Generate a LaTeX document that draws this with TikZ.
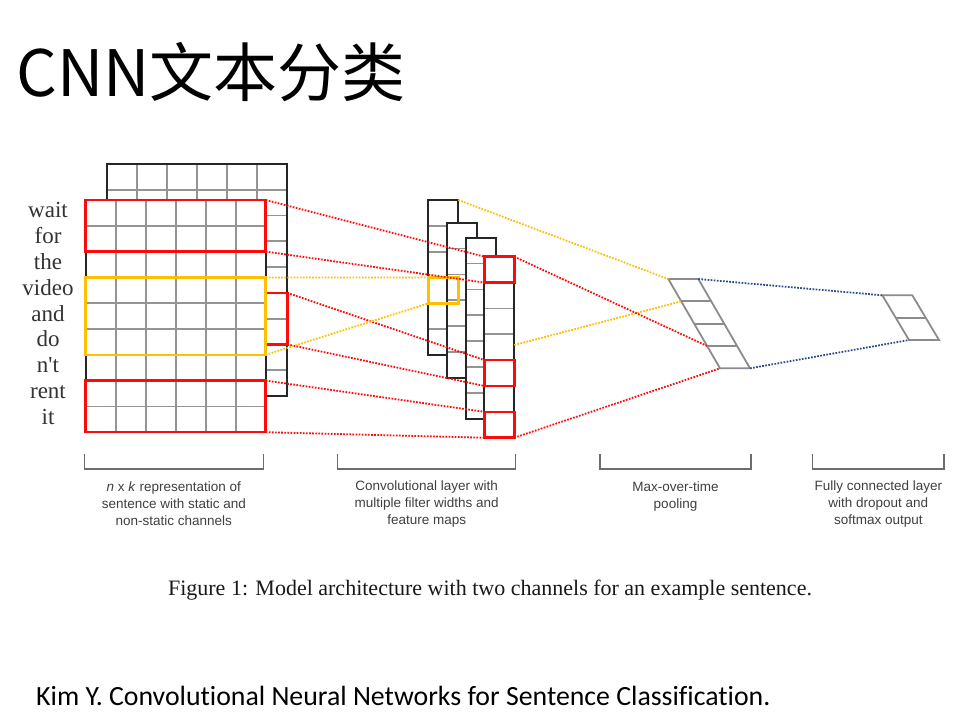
\documentclass[tikz,border=0pt]{standalone}
\usepackage{fontspec}
\setmainfont{Liberation Serif}
\newfontfamily\cjkfont{Noto Sans CJK SC}
\newfontfamily\capfont{Liberation Sans}
\newfontfamily\notefont[Ligatures=NoCommon]{Carlito}
\usetikzlibrary{calc}
\definecolor{boxred}{HTML}{FF0A0A}
\definecolor{boxyellow}{HTML}{FFC000}
\definecolor{dotblue}{HTML}{2F4A8C}
\definecolor{gridgray}{HTML}{949494}
\definecolor{capgray}{HTML}{404040}
\tikzset{
  gridline/.style={draw=gridgray, line width=1.8pt},
  frame/.style={draw=black!85, line width=2pt},
  redbox/.style={draw=boxred, line width=2.5pt},
  yellowbox/.style={draw=boxyellow, line width=2.5pt},
  dotline/.style={line width=1.8pt, dash pattern=on 1.7pt off 1.4pt},
  poolline/.style={draw=gray!90, line width=1.8pt},
  bracket/.style={draw=gray!85!black, line width=1.3pt},
  word/.style={anchor=base, text=black!80, font=\fontsize{23}{23}\selectfont},
  caption/.style={align=center, text=capgray, font=\capfont\fontsize{13.5}{17}\selectfont}
}
\begin{document}
\begin{tikzpicture}[x=1pt, y=-1pt]
    % 页面
    \fill[white] (0,0) rectangle (957,726);
    \useasboundingbox (0,0) rectangle (957,726);

    % 标题
    \node[anchor=base west, inner sep=0pt] (title) at (16,96.7)
        {\cjkfont\fontsize{64}{64}\selectfont CNN文本分类};

    % 后面的矩阵 (static channel)
    \fill[white] (107.3,164) rectangle (287.3,396);
    \foreach \i in {1,...,5} \draw[gridline] (107.3+\i*30,164) -- (107.3+\i*30,396);
    \foreach \j in {1,...,8} \draw[gridline] (107.3,164+\j*25.78) -- (287.3,164+\j*25.78);
    \draw[frame] (107.3,164) rectangle (287.3,396);
    \draw[redbox] (107.3,292.9) rectangle (287.3,344.4);
    \coordinate (bRt) at (287.3,292.9);
    \coordinate (bRb) at (287.3,344.4);

    % 前面的矩阵 (non-static channel)
    \fill[white] (85.7,200) rectangle (265.7,432.2);
    \foreach \i in {1,...,5} \draw[gridline] (85.7+\i*30,200) -- (85.7+\i*30,432.2);
    \foreach \j in {1,...,8} \draw[gridline] (85.7,200+\j*25.8) -- (265.7,200+\j*25.8);
    \draw[frame] (85.7,200) rectangle (265.7,432.2);
    \draw[redbox] (85.7,200) rectangle (265.7,251.6);
    \draw[yellowbox] (85.7,277.4) rectangle (265.7,354.8);
    \draw[redbox] (85.7,380.6) rectangle (265.7,432.2);
    \coordinate (fAt) at (265.7,200);
    \coordinate (fAb) at (265.7,251.6);
    \coordinate (fYt) at (265.7,277.4);
    \coordinate (fYb) at (265.7,354.8);
    \coordinate (fBt) at (265.7,380.6);
    \coordinate (fBb) at (265.7,432.2);

    % 句子
    \foreach \w [count=\k from 0] in {wait,for,the,video,and,do,n\textquotesingle t,rent,it}
        \node[word] (w\k) at (48,200+\k*25.8+17.9) {\w};

    % 卷积层
    \foreach \cx/\cy/\n [count=\c] in {428.3/200/6, 447/222.7/6, 465.7/237.7/7, 484.3/256.7/7} {
        \fill[white] (\cx,\cy) rectangle ++(30,\n*25.85);
        \foreach \j in {1,...,\n} \draw[gridline] (\cx,\cy+\j*25.85) -- ++(30,0);
        \draw[frame] (\cx,\cy) rectangle ++(30,\n*25.85);
        \coordinate (c\c) at (\cx,\cy);
    }
    \draw[yellowbox] (428.3,277.55) rectangle (458.3,303.4);
    \draw[redbox] (484.3,256.7) rectangle (514.3,282.55);
    \draw[redbox] (484.3,360.1) rectangle (514.3,385.95);
    \draw[redbox] (484.3,411.8) rectangle (514.3,437.7);
    \coordinate (yA) at (428.3,277.55);
    \coordinate (yB) at (428.3,303.4);
    \coordinate (rA) at (484.3,256.7);
    \coordinate (rB) at (484.3,282.55);
    \coordinate (rC) at (484.3,360.1);
    \coordinate (rD) at (484.3,385.95);
    \coordinate (rE) at (484.3,411.8);
    \coordinate (rF) at (484.3,437.7);
    \coordinate (c1tr) at (458.3,200);
    \coordinate (c4tr) at (514.3,256.7);
    \coordinate (c4br) at (514.3,437.7);
    \coordinate (c4y) at (514.3,345);

    % max-over-time pooling
    \coordinate (pTL) at (668.3,279);
    \coordinate (pTR) at (698.3,279);
    \coordinate (pBL) at (720,368.3);
    \coordinate (pBR) at (750,368.3);
    \foreach \t [count=\r] in {0.25,0.5,0.75} {
        \coordinate (p\r) at ($(pTL)!\t!(pBL)$);
        \draw[poolline] (p\r) -- ++(30,0);
    }
    \draw[poolline] (pTL) -- (pTR) -- (pBR) -- (pBL) -- cycle;

    % 全连接层
    \coordinate (fcTL) at (882.3,295.3);
    \coordinate (fcTR) at (912.3,295.3);
    \coordinate (fcBL) at (909,340);
    \coordinate (fcBR) at (939,340);
    \coordinate (fcM) at ($(fcTL)!0.5!(fcBL)$);
    \draw[poolline] (fcM) -- ++(30,0);
    \draw[poolline] (fcTL) -- (fcTR) -- (fcBR) -- (fcBL) -- cycle;

    % 虚线: 输入 -> 卷积
    \draw[dotline, boxred] (fAt) -- (rA);
    \draw[dotline, boxred] (fAb) -- (rB);
    \draw[dotline, boxred] (bRt) -- (rC);
    \draw[dotline, boxred] (bRb) -- (rD);
    \draw[dotline, boxred] (fBt) -- (rE);
    \draw[dotline, boxred] (fBb) -- (rF);
    \draw[dotline, boxyellow] (fYt) -- (yA);
    \draw[dotline, boxyellow] (fYb) -- (yB);

    % 虚线: 卷积 -> pooling -> 输出
    \draw[dotline, boxyellow] (c1tr) -- (pTL);
    \draw[dotline, boxyellow] (c4y) -- (p1);
    \draw[dotline, boxred] (c4tr) -- (p3);
    \draw[dotline, boxred] (c4br) -- (pBL);
    \draw[dotline, dotblue] (pTR) -- (fcTL);
    \draw[dotline, dotblue] (pBR) -- (fcBL);

    % 括号和说明
    \draw[bracket] (84.3,454) -- (84.3,469) -- (263.3,469) -- (263.3,454);
    \draw[bracket] (337.7,454) -- (337.7,469) -- (515.7,469) -- (515.7,454);
    \draw[bracket] (600,454) -- (600,469) -- (751,469) -- (751,454);
    \draw[bracket] (812.7,454) -- (812.7,469) -- (944,469) -- (944,454);
    \node[caption] (capA) at (173.8,504) {\textit{n} x \textit{k} representation of\\sentence with static and\\non-static channels};
    \node[caption] (capB) at (426.7,504) {Convolutional layer with\\multiple filter widths and\\feature maps};
    \node[caption] (capC) at (675.5,496) {Max-over-time\\pooling};
    \node[caption] (capD) at (878.3,504) {Fully connected layer\\with dropout and\\softmax output};

    % 图注
    \node[anchor=base, text=black!90, font=\fontsize{22}{22}\selectfont] (fig) at (490,595)
        {Figure 1: Model architecture with two channels for an example sentence.};

    % 参考文献
    \node[anchor=base west, inner sep=0pt, font=\notefont\fontsize{27.8}{27.8}\selectfont] (ref) at (36,705.7)
        {Kim Y. Convolutional Neural Networks for Sentence Classification.};
\end{tikzpicture}
\end{document}
